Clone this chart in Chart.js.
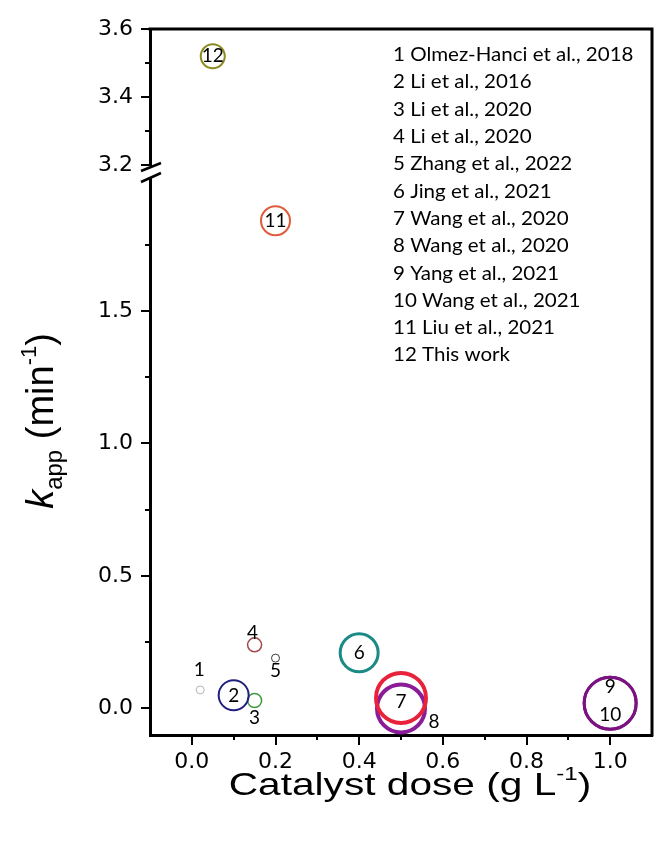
<!DOCTYPE html>
<html>
<head>
<meta charset="utf-8">
<script src="https://cdn.jsdelivr.net/npm/chart.js@4.4.1/dist/chart.umd.min.js"></script>
<style>
  html, body { margin: 0; padding: 0; background: #fff; }
  canvas { display: block; }
</style>
</head>
<body>
<canvas id="kappChart" width="662" height="850"></canvas>
<script>
// Values
const pointIds = ["1", "2", "3", "4", "5", "6", "7", "8", "9", "10", "11", "12"];
const catalystDose = [0.02, 0.10, 0.15, 0.15, 0.20, 0.40, 0.50, 0.50, 1.00, 1.00, 0.20, 0.05];
const kApp = [0.07, 0.05, 0.03, 0.24, 0.19, 0.21, 0.04, 0.00, 0.02, 0.02, 1.84, 3.52];
const bubbleSize = [4, 15, 7, 7, 4, 19, 25, 24, 26, 26, 14.5, 12];
const references = [
  "Olmez-Hanci et al., 2018",
  "Li et al., 2016",
  "Li et al., 2020",
  "Li et al., 2020",
  "Zhang et al., 2022",
  "Jing et al., 2021",
  "Wang et al., 2020",
  "Wang et al., 2020",
  "Yang et al., 2021",
  "Wang et al., 2021",
  "Liu et al., 2021",
  "This work",
];
const xTickLabels = [0.0, 0.2, 0.4, 0.6, 0.8, 1.0];
const yLowTickLabels = [0.0, 0.5, 1.0, 1.5];
const yTopTickLabels = [3.2, 3.4, 3.6];
const lowRange = [-0.1, 2.05];
const topRange = [3.2, 3.6];

// Styles
const circleColors = [
  "#b4b4b4", "#1f1f7e", "#3e9a3e", "#a2474a", "#3a3a3a", "#1b8a85",
  "#e8223b", "#8a1c98", "#7c1282", "#7c1282", "#e05a3c", "#8c8a1e",
];
const circleWidths = [1, 2, 1.5, 1.5, 1, 3, 4, 4, 3, 3, 2, 2];
// label offset from the bubble centre, px
const labelOffsets = [
  [-1, -20], [0, 1], [0, 17], [-2, -12], [0, 13], [0, 0],
  [0, 4], [33, 13], [0, -16], [0, 12], [0, 0], [0, 0],
];

const near = (list, v) => list.some((t) => Math.abs(t - v) < 1e-6);
const onStep = (v, step) => Math.abs(v / step - Math.round(v / step)) < 1e-6;
const fmt = (v) => (Math.round(v * 10) / 10 + 0).toFixed(1);
const tickFont = { family: "'DejaVu Sans', sans-serif", size: 22 };

const datasets = pointIds.map((id, i) => ({
  label: id + " " + references[i],
  data: [{ x: catalystDose[i], y: kApp[i], r: bubbleSize[i] }],
  yAxisID: kApp[i] >= topRange[0] ? "yTop" : "y",
  borderColor: circleColors[i],
  backgroundColor: "rgba(0,0,0,0)",
  borderWidth: circleWidths[i],
}));

// Draw tick marks (major longer than minor), frame and axis break
const axisDecor = {
  id: "axisDecor",
  afterDraw(chart) {
    const { ctx, chartArea } = chart;
    const { left, right, top, bottom } = chartArea;
    ctx.save();
    ctx.strokeStyle = "#000";
    ctx.lineWidth = 2;

    const xs = chart.scales.x;
    xs.ticks.forEach((t) => {
      if (t.value < -1e-6 || t.value > 1.0 + 1e-6) return;
      const px = Math.round(xs.getPixelForValue(t.value));
      const len = near(xTickLabels, t.value) ? 10 : 5;
      ctx.beginPath();
      ctx.moveTo(px, bottom);
      ctx.lineTo(px, bottom + len);
      ctx.stroke();
    });

    const yTicks = (scale, labels, step, lo, hi) => {
      scale.ticks.forEach((t) => {
        if (t.value < lo - 1e-6 || t.value > hi + 1e-6) return;
        if (!onStep(t.value, step)) return;
        const py = Math.round(scale.getPixelForValue(t.value));
        const len = near(labels, t.value) ? 9 : 5;
        ctx.beginPath();
        ctx.moveTo(left, py);
        ctx.lineTo(left - len, py);
        ctx.stroke();
      });
    };
    yTicks(chart.scales.y, yLowTickLabels, 0.25, 0, 1.75);
    yTicks(chart.scales.yTop, yTopTickLabels, 0.1, 3.2, 3.6);

    // top and right frame
    ctx.lineWidth = 3;
    ctx.beginPath();
    ctx.moveTo(left - 1.5, top);
    ctx.lineTo(right, top);
    ctx.lineTo(right, bottom + 1.5);
    ctx.stroke();

    // axis break
    const b = chart.scales.yTop.bottom;
    ctx.fillStyle = "#fff";
    ctx.fillRect(left - 3, b + 1, 6, 11);
    ctx.lineWidth = 2.5;
    ctx.beginPath();
    ctx.moveTo(left - 9, b + 6);
    ctx.lineTo(left + 11, b - 2);
    ctx.moveTo(left - 9, b + 17);
    ctx.lineTo(left + 11, b + 8);
    ctx.stroke();
    ctx.restore();
  },
};

function drawParts(ctx, parts, x, y) {
  let total = 0;
  parts.forEach((p) => {
    ctx.font = p.font;
    p.w = ctx.measureText(p.text).width;
    total += p.w;
  });
  let cx = x - total / 2;
  parts.forEach((p) => {
    ctx.font = p.font;
    ctx.fillText(p.text, cx, y + (p.dy || 0));
    cx += p.w;
  });
}

// Axis titles, reference list and point numbers
const annotations = {
  id: "annotations",
  afterDraw(chart) {
    const { ctx, chartArea } = chart;
    const main = "'Liberation Sans', Arial, sans-serif";
    ctx.save();
    ctx.fillStyle = "#000";
    ctx.textBaseline = "alphabetic";
    ctx.textAlign = "left";

    // x title
    ctx.save();
    ctx.translate((chartArea.left + chartArea.right) / 2 + 9, chartArea.bottom + 60);
    ctx.scale(1.27, 1);
    drawParts(ctx, [
      { text: "Catalyst dose (g L", font: `32px ${main}` },
      { text: "-1", font: `19px ${main}`, dy: -15 },
      { text: ")", font: `32px ${main}` },
    ], 0, 0);
    ctx.restore();

    // y title
    ctx.save();
    ctx.translate(53, 421);
    ctx.rotate(-Math.PI / 2);
    drawParts(ctx, [
      { text: "k", font: `italic 38px ${main}` },
      { text: "app", font: `24px ${main}`, dy: 9 },
      { text: " (min", font: `38px ${main}` },
      { text: "-1", font: `22px ${main}`, dy: -17 },
      { text: ")", font: `38px ${main}` },
    ], 0, 0);
    ctx.restore();

    // reference list
    ctx.textBaseline = "middle";
    references.forEach((ref, i) => {
      ctx.save();
      ctx.translate(393, 55 + i * 27.3);
      ctx.scale(1.08, 1);
      ctx.font = "19px Lato, sans-serif";
      ctx.fillText(pointIds[i] + " " + ref, 0, 0);
      ctx.restore();
    });

    // point numbers
    ctx.textAlign = "center";
    ctx.font = "19px Lato, sans-serif";
    chart.data.datasets.forEach((ds, i) => {
      const el = chart.getDatasetMeta(i).data[0];
      const [dx, dy] = labelOffsets[i];
      ctx.fillText(pointIds[i], el.x + dx, el.y + dy);
    });
    ctx.restore();
  },
};

const fitY = (s) => {
  s.width = 70;
  s.paddingTop = 0;
  s.paddingBottom = 0;
};

new Chart(document.getElementById("kappChart"), {
  type: "bubble",
  data: { datasets: datasets },
  plugins: [axisDecor, annotations],
  options: {
    responsive: false,
    animation: false,
    events: [],
    layout: {
      autoPadding: false,
      padding: { left: 80, right: 10, top: 29, bottom: 70 },
    },
    plugins: {
      legend: { display: false },
      tooltip: { enabled: false },
    },
    scales: {
      x: {
        type: "linear",
        position: "bottom",
        min: -0.1,
        max: 1.1,
        afterFit: (s) => {
          s.height = 45;
          s.paddingLeft = 0;
          s.paddingRight = 0;
        },
        grid: { display: false, drawTicks: false },
        border: { display: true, color: "#000", width: 3 },
        ticks: {
          stepSize: 0.1,
          autoSkip: false,
          maxRotation: 0,
          padding: 14,
          color: "#000",
          font: tickFont,
          callback: (v) => (near(xTickLabels, v) ? fmt(v) : ""),
        },
      },
      y: {
        type: "linear",
        position: "left",
        stack: "kapp",
        stackWeight: 570,
        min: lowRange[0],
        max: lowRange[1],
        afterFit: fitY,
        grid: { display: false, drawTicks: false },
        border: { display: true, color: "#000", width: 3 },
        ticks: {
          stepSize: 0.05,
          autoSkip: false,
          padding: 17,
          color: "#000",
          font: tickFont,
          callback: (v) => (near(yLowTickLabels, v) ? fmt(v) : ""),
        },
      },
      yTop: {
        type: "linear",
        position: "left",
        stack: "kapp",
        stackWeight: 136,
        min: topRange[0],
        max: topRange[1],
        afterFit: fitY,
        grid: { display: false, drawTicks: false },
        border: { display: true, color: "#000", width: 3 },
        ticks: {
          stepSize: 0.1,
          autoSkip: false,
          padding: 17,
          color: "#000",
          font: tickFont,
          callback: (v) => (near(yTopTickLabels, v) ? fmt(v) : ""),
        },
      },
    },
  },
});
</script>
</body>
</html>
